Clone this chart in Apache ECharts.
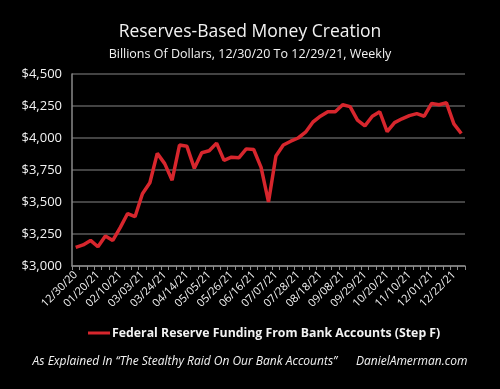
<!DOCTYPE html>
<html>
<head>
<meta charset="utf-8">
<style>
  html, body { margin: 0; padding: 0; background: #000; }
  #chart { width: 500px; height: 389px; }
</style>
<script src="https://cdn.jsdelivr.net/npm/echarts@6/dist/echarts.min.js"></script>
</head>
<body>
<div id="chart"></div>
<script>
const categories = [
  '12/30/20','01/06/21','01/13/21','01/20/21','01/27/21','02/03/21','02/10/21','02/17/21','02/24/21','03/03/21',
  '03/10/21','03/17/21','03/24/21','03/31/21','04/07/21','04/14/21','04/21/21','04/28/21','05/05/21','05/12/21',
  '05/19/21','05/26/21','06/02/21','06/09/21','06/16/21','06/23/21','06/30/21','07/07/21','07/14/21','07/21/21',
  '07/28/21','08/04/21','08/11/21','08/18/21','08/25/21','09/01/21','09/08/21','09/15/21','09/22/21','09/29/21',
  '10/06/21','10/13/21','10/20/21','10/27/21','11/03/21','11/10/21','11/17/21','11/24/21','12/01/21','12/08/21',
  '12/15/21','12/22/21','12/29/21'
];
const reserveFunding = [
  3145, 3165, 3200, 3150, 3235, 3200, 3300, 3410, 3385, 3565,
  3650, 3880, 3800, 3670, 3945, 3935, 3763, 3885, 3900, 3960,
  3825, 3850, 3845, 3915, 3910, 3770, 3500, 3860, 3945, 3975,
  4000, 4045, 4125, 4170, 4205, 4205, 4260, 4245, 4140, 4095,
  4170, 4205, 4050, 4120, 4150, 4175, 4190, 4170, 4270, 4260,
  4275, 4110, 4035
];
const yTicks = { min: 3000, max: 4500, interval: 250 };
const seriesName = 'Federal Reserve Funding From Bank Accounts (Step F)';
const titleText = 'Reserves-Based Money Creation';
const subtitleText = 'Billions Of Dollars, 12/30/20 To 12/29/21, Weekly';
const footerText = 'As Explained In \u201CThe Stealthy Raid On Our Bank Accounts\u201D      DanielAmerman.com';

const chart = echarts.init(document.getElementById('chart'), null, { renderer: 'canvas' });
const font = 'Open Sans';
chart.setOption({
  backgroundColor: '#000',
  animation: false,
  title: [
    { text: titleText, left: 'center', top: 18, textStyle: { color: '#f2f2f2', fontFamily: font, fontSize: 17.5, fontWeight: 'normal' } },
    { text: subtitleText, left: 'center', top: 43, textStyle: { color: '#f2f2f2', fontFamily: font, fontSize: 12.5, fontWeight: 'normal' } },
    { text: footerText, left: 'center', top: 351, textStyle: { color: '#f2f2f2', fontFamily: font, fontSize: 12, fontStyle: 'italic', fontWeight: 'normal' } }
  ],
  legend: {
    data: [seriesName],
    top: 322,
    left: 83,
    itemWidth: 22,
    itemHeight: 3,
    itemGap: 2,
    icon: 'rect',
    textStyle: { color: '#f2f2f2', fontFamily: font, fontSize: 12.3, fontWeight: 'bold', padding: [0, 0, 0, -3] }
  },
  grid: { left: 72, right: 35, top: 74, bottom: 123, containLabel: false },
  xAxis: {
    type: 'category',
    data: categories,
    boundaryGap: true,
    axisLine: { lineStyle: { color: '#8a8a8a', width: 1.5 } },
    axisTick: { show: true, interval: 0, length: 4, lineStyle: { color: '#8a8a8a' } },
    axisLabel: { interval: 2, rotate: 45, color: '#f2f2f2', fontFamily: font, fontSize: 11, margin: 7 },
    splitLine: { show: false }
  },
  yAxis: {
    type: 'value',
    min: yTicks.min, max: yTicks.max, interval: yTicks.interval,
    axisLine: { show: true, lineStyle: { color: '#8a8a8a', width: 1.5 } },
    axisTick: { show: false },
    axisLabel: {
      color: '#f2f2f2', fontFamily: font, fontSize: 13, margin: 10,
      formatter: v => '$' + v.toLocaleString('en-US')
    },
    splitLine: { lineStyle: { color: '#5a5a5a', width: 1.5 } }
  },
  series: [{
    name: seriesName,
    type: 'line',
    data: reserveFunding,
    symbol: 'none',
    lineStyle: { color: '#d7262d', width: 3.5 },
    itemStyle: { color: '#d7262d' }
  }]
});
</script>
</body>
</html>
